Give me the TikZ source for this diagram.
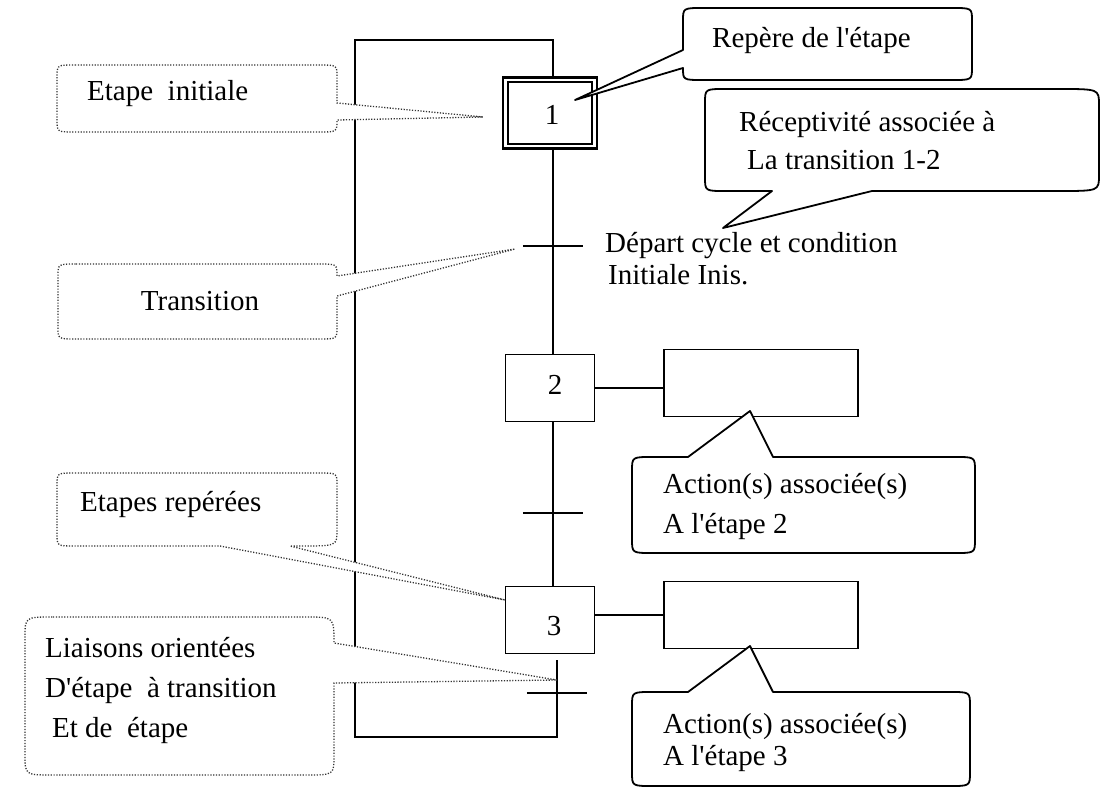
\documentclass[tikz,border=0pt]{standalone}
\usepackage{fontspec}
\setmainfont{Liberation Serif}[Ligatures=TeXOff]
\begin{document}
\begin{tikzpicture}[x=1pt,y=-1pt,
  every node/.style={font=\fontsize{29}{38}\selectfont, inner sep=0pt},
  ln/.style={line width=1.8pt},
  stepbox/.style={draw, line width=1.8pt, minimum width=89pt, minimum height=67pt},
  initout/.style={draw, line width=2.4pt, minimum width=94pt, minimum height=71pt},
  initin/.style={draw, line width=1.6pt, minimum width=84pt, minimum height=62pt},
  actbox/.style={draw, line width=1.8pt, minimum width=194pt, minimum height=67pt},
  tbar/.style={minimum width=60pt, minimum height=0pt},
  solidcall/.style={draw, fill=white, line width=1.8pt, line join=round},
  dotcall/.style={draw=black!80, fill=white, line width=1.3pt, dash pattern=on 1.2pt off 1.6pt},
  lbl/.style={anchor=west, align=left}]
\useasboundingbox (0,0) rectangle (1103,789);

% steps, actions and transitions
\node[initout] (s1) at (550,113) {};
\node[initin] (s1in) at (550,113) {};
\node (n1) at (552,115) {1};
\node[stepbox] (s2) at (550,388) {};
\node (n2) at (555,385) {2};
\node[stepbox] (s3) at (550,620) {};
\node (n3) at (554,626) {3};
\node[actbox] (a2) at (761,383) {};
\node[actbox] (a3) at (761,615) {};
\node[tbar] (t1) at (553,246) {};
\node[tbar] (t2) at (553,513) {};
\node[tbar] (t3) at (557,693) {};
\coordinate (lbot) at (355,737);
\coordinate (ltop) at (355,40);
\coordinate (rtop) at (553,40);

% links
\draw[ln] (s1.south -| t1) -- (s2.north -| t1);
\draw[ln] (s2.south -| t2) -- (s3.north -| t2);
\draw[ln] ([yshift=-6pt]s3.south -| t3) -- (t3 |- lbot) -- (lbot) -- (ltop) -- (rtop) -- (rtop |- s1.north);
\draw[ln] (t1.west) -- (t1.east);
\draw[ln] (t2.west) -- (t2.east);
\draw[ln] (t3.west) -- (t3.east);
\draw[ln] (s2.east) -- (s2.east -| a2.west);
\draw[ln] (s3.east |- a3.west) -- (a3.west);

% callout tips
\coordinate (tipR) at (575,100);
\coordinate (tipC) at (723,228);
\coordinate (tipEI) at (483,117);
\coordinate (tipT) at (515,249);
\coordinate (tipER) at (505,600);
\coordinate (tipL) at (557,680);
\coordinate (tipA2) at (750,411);
\coordinate (tipA3) at (750,646);

% solid callouts
\draw[solidcall] (703,8) -- (952,8) .. controls (972,8) .. (972,21) -- (972,67)
  .. controls (972,80) .. (952,80) -- (703,80) .. controls (683,80) .. (683,68)
  -- (tipR) -- (683,50) -- (683,21) .. controls (683,8) .. (703,8) -- cycle;
\draw[solidcall] (725,89) -- (1059,89) .. controls (1099,89) .. (1099,105) -- (1099,175)
  .. controls (1099,191) .. (1059,191) -- (872,191) -- (tipC) -- (772,191) -- (725,191)
  .. controls (705,191) .. (705,177) -- (705,103) .. controls (705,89) .. (725,89) -- cycle;
\draw[solidcall] (652,457) -- (688,457) -- (tipA2) -- (773,457) -- (955,457)
  .. controls (975,457) .. (975,471) -- (975,539) .. controls (975,553) .. (955,553)
  -- (652,553) .. controls (632,553) .. (632,539) -- (632,471) .. controls (632,457) .. (652,457) -- cycle;
\draw[solidcall] (652,692) -- (688,692) -- (tipA3) -- (773,692) -- (950,692)
  .. controls (970,692) .. (970,706) -- (970,772) .. controls (970,786) .. (950,786)
  -- (652,786) .. controls (632,786) .. (632,772) -- (632,706) .. controls (632,692) .. (652,692) -- cycle;

% dotted callouts
\draw[dotcall] (75,65) -- (319,65) .. controls (337,65) .. (337,77) -- (337,103) -- (tipEI)
  -- (337,120) .. controls (337,132) .. (319,132) -- (75,132) .. controls (57,132) .. (57,120)
  -- (57,77) .. controls (57,65) .. (75,65) -- cycle;
\draw[dotcall] (76,264) -- (319,264) .. controls (337,264) .. (337,276) -- (tipT) -- (337,296)
  -- (337,327) .. controls (337,339) .. (319,339) -- (76,339) .. controls (58,339) .. (58,327)
  -- (58,276) .. controls (58,264) .. (76,264) -- cycle;
\draw[dotcall] (75,473) -- (319,473) .. controls (337,473) .. (337,485) -- (337,530)
  .. controls (337,546) .. (300,546) -- (290,546) -- (tipER) -- (220,546) -- (75,546)
  .. controls (57,546) .. (57,534) -- (57,485) .. controls (57,473) .. (75,473) -- cycle;
\draw[dotcall] (53,617) -- (306,617) .. controls (334,617) .. (334,643) -- (tipL) -- (334,683)
  -- (334,755) .. controls (334,775) .. (306,775) -- (53,775) .. controls (25,775) .. (25,755)
  -- (25,637) .. controls (25,617) .. (53,617) -- cycle;

% texts
\node[lbl] (trep) at (712,41) {Repère de l'étape};
\node[lbl] (trec) at (739,141) {Réceptivité associée à\\\hspace*{8pt}La transition 1-2};
\node[lbl, font=\fontsize{29}{32}\selectfont] (tdep) at (605,259) {Départ cycle et condition\\\hspace*{3pt}Initiale Inis.};
\node[lbl] (tei) at (87,94) {Etape\ \ initiale};
\node (ttr) at (200,301) {Transition};
\node[lbl] (ter) at (80,505) {Etapes repérées};
\node[lbl, font=\fontsize{29}{40}\selectfont] (tli) at (45,690) {Liaisons orientées\\D'étape\ \ à transition\\\hspace*{7pt}Et de\ \ étape};
\node[lbl, font=\fontsize{29}{40}\selectfont] (ta2) at (663,507) {Action(s) associée(s)\\A l'étape 2};
\node[lbl, font=\fontsize{29}{32}\selectfont] (ta3) at (663,742) {Action(s) associée(s)\\A l'étape 3};
\end{tikzpicture}
\end{document}
